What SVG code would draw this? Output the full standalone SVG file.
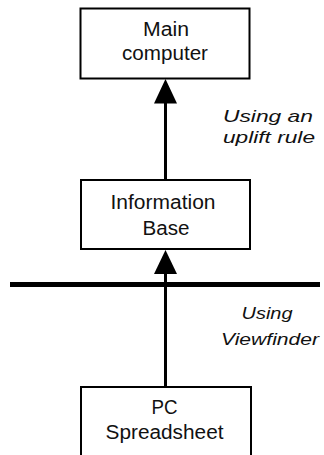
<svg xmlns="http://www.w3.org/2000/svg" width="324" height="455" viewBox="0 0 324 455">
  <style>
    .box { fill: #ffffff; stroke: #000000; stroke-width: 2; }
    .lbl { font-family: "Liberation Sans", Arial, sans-serif; font-size: 20px; fill: #111111; text-anchor: middle; }
    .note { font-family: "Liberation Sans", Arial, sans-serif; font-size: 17px; font-style: italic; fill: #111111; }
    .wire { stroke: #000000; stroke-width: 3; fill: none; }
    .head { fill: #000000; }
  </style>
  <rect width="324" height="455" fill="#ffffff"/>

  <g id="connectors">
    <!-- uplift: Information Base to Main computer -->
    <line class="wire" x1="165.5" y1="180" x2="165.5" y2="100"/>
    <polygon class="head" points="165.5,79 154,103.5 177,103.5"/>
    <!-- viewfinder: PC Spreadsheet to Information Base -->
    <line class="wire" x1="165.5" y1="387" x2="165.5" y2="270"/>
    <polygon class="head" points="165.5,250 154,274 177,274"/>
    <!-- boundary line -->
    <line x1="10" y1="284.5" x2="320" y2="284.5" stroke="#000000" stroke-width="5"/>
  </g>

  <g id="main-computer">
    <rect class="box" x="80.5" y="8.5" width="169" height="70"/>
    <text class="lbl" x="166" y="35.5" textLength="46" lengthAdjust="spacingAndGlyphs">Main</text>
    <text class="lbl" x="165" y="60" textLength="86" lengthAdjust="spacingAndGlyphs">computer</text>
  </g>

  <g id="information-base">
    <rect class="box" x="81" y="180" width="169" height="69"/>
    <text class="lbl" x="163" y="208.5" textLength="105" lengthAdjust="spacingAndGlyphs">Information</text>
    <text class="lbl" x="166" y="235" textLength="47" lengthAdjust="spacingAndGlyphs">Base</text>
  </g>

  <g id="pc-spreadsheet">
    <rect class="box" x="81" y="387" width="170" height="80"/>
    <text class="lbl" x="164.5" y="413.5" textLength="26" lengthAdjust="spacingAndGlyphs">PC</text>
    <text class="lbl" x="164.5" y="438.5" textLength="118" lengthAdjust="spacingAndGlyphs">Spreadsheet</text>
  </g>

  <g id="uplift-label">
    <text class="note" x="223" y="122" textLength="90" lengthAdjust="spacingAndGlyphs">Using  an</text>
    <text class="note" x="223" y="143" textLength="92" lengthAdjust="spacingAndGlyphs">uplift rule</text>
  </g>

  <g id="viewfinder-label">
    <text class="note" x="241.5" y="318.5" textLength="51" lengthAdjust="spacingAndGlyphs">Using</text>
    <text class="note" x="221" y="345" textLength="98" lengthAdjust="spacingAndGlyphs">Viewfinder</text>
  </g>
</svg>
